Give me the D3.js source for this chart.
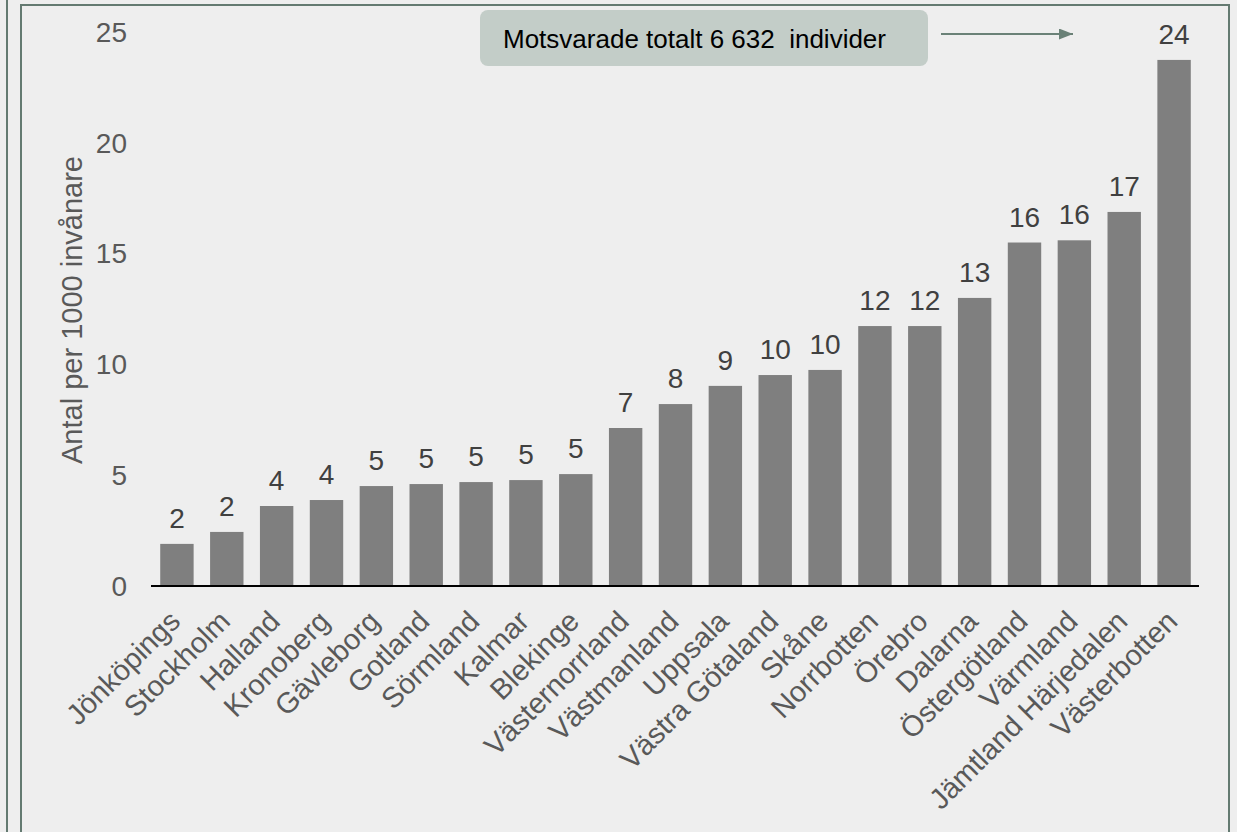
<!DOCTYPE html>
<html>
<head>
<meta charset="utf-8">
<script src="https://cdn.jsdelivr.net/npm/d3@7"></script>
<style>
  html, body { margin: 0; padding: 0; background: #eeeeee; }
  svg { display: block; font-family: "Liberation Sans", Arial, sans-serif; }
</style>
</head>
<body>
<svg></svg>
<script>
// regions, sorted by rate
const regions = ["Jönköpings", "Stockholm", "Halland", "Kronoberg", "Gävleborg", "Gotland",
  "Sörmland", "Kalmar", "Blekinge", "Västernorrland", "Västmanland", "Uppsala",
  "Västra Götaland", "Skåne", "Norrbotten", "Örebro", "Dalarna", "Östergötland",
  "Värmland", "Jämtland Härjedalen", "Västerbotten"];
// antal per 1000 invånare
const rates = [1.9, 2.44, 3.61, 3.88, 4.51, 4.6, 4.69, 4.78, 5.05, 7.13, 8.21, 9.03,
  9.52, 9.75, 11.73, 11.73, 13.0, 15.5, 15.6, 16.88, 23.74];
const yTicks = [0, 5, 10, 15, 20, 25];
const note = "Motsvarade totalt 6 632  individer";
const yTitle = "Antal per 1000 invånare";

const W = 1237, H = 832;
const svg = d3.select("svg").attr("width", W).attr("height", H);

const data = regions.map((r, i) => ({ region: r, rate: rates[i] }));

// frames
svg.append("line")
  .attr("x1", 7).attr("x2", 7).attr("y1", 0).attr("y2", H)
  .attr("stroke", "#647a71").attr("stroke-width", 2);
svg.append("rect")
  .attr("x", 21).attr("y", 5).attr("width", 1208).attr("height", H + 10)
  .attr("fill", "none").attr("stroke", "#647a71").attr("stroke-width", 2);

let x = d3.scaleBand()
  .domain(regions)
  .range([152, 1199])
  .paddingInner(0.33)
  .paddingOuter(0.165);

let y = d3.scaleLinear().domain([0, 25]).range([586, 32]);

// y tick labels
svg.append("g")
  .selectAll("text")
  .data(yTicks)
  .enter()
  .append("text")
  .attr("x", 127)
  .attr("y", (d) => y(d))
  .attr("dy", "0.35em")
  .attr("text-anchor", "end")
  .attr("font-size", 28)
  .attr("fill", "#595959")
  .text((d) => d);

// y axis title
svg.append("text")
  .attr("transform", `translate(82, ${310}) rotate(-90)`)
  .attr("text-anchor", "middle")
  .attr("font-size", 29)
  .attr("fill", "#595959")
  .text(yTitle);

// bars
svg.append("g")
  .selectAll("rect")
  .data(data)
  .enter()
  .append("rect")
  .attr("x", (d) => x(d.region))
  .attr("width", x.bandwidth())
  .attr("y", (d) => y(d.rate))
  .attr("height", (d) => y(0) - y(d.rate))
  .attr("fill", "#7f7f7f");

// value labels
svg.append("g")
  .selectAll("text")
  .data(data)
  .enter()
  .append("text")
  .attr("x", (d) => x(d.region) + x.bandwidth() / 2)
  .attr("y", (d) => y(d.rate) - 16)
  .attr("text-anchor", "middle")
  .attr("font-size", 28)
  .attr("fill", "#404040")
  .text((d) => d3.format(".0f")(d.rate));

// baseline
svg.append("line")
  .attr("x1", 151).attr("x2", 1199)
  .attr("y1", y(0)).attr("y2", y(0))
  .attr("stroke", "#000").attr("stroke-width", 2);

// category labels
svg.append("g")
  .selectAll("text")
  .data(regions)
  .enter()
  .append("text")
  .attr("transform", (d) => `translate(${x(d) + x.bandwidth() / 2 + 5}, 623) rotate(-45)`)
  .attr("text-anchor", "end")
  .attr("font-size", 29)
  .attr("fill", "#595959")
  .text((d) => d);

// note box + arrow
svg.append("rect")
  .attr("x", 480).attr("y", 10).attr("width", 448).attr("height", 56)
  .attr("rx", 8)
  .attr("fill", "#c3cdc8");
svg.append("text")
  .attr("x", 503).attr("y", 39)
  .attr("dy", "0.35em")
  .attr("font-size", 26)
  .attr("fill", "#000")
  .attr("xml:space", "preserve")
  .style("white-space", "pre")
  .text(note);

svg.append("defs").append("marker")
  .attr("id", "arrow")
  .attr("viewBox", "0 0 10 10")
  .attr("refX", 10).attr("refY", 5)
  .attr("markerWidth", 14).attr("markerHeight", 11)
  .attr("markerUnits", "userSpaceOnUse")
  .attr("orient", "auto")
  .attr("preserveAspectRatio", "none")
  .append("path")
  .attr("d", "M0,0L10,5L0,10Z")
  .attr("fill", "#6a8177");
svg.append("line")
  .attr("x1", 941).attr("x2", 1073)
  .attr("y1", 34).attr("y2", 34)
  .attr("stroke", "#6a8177").attr("stroke-width", 2)
  .attr("marker-end", "url(#arrow)");
</script>
</body>
</html>
